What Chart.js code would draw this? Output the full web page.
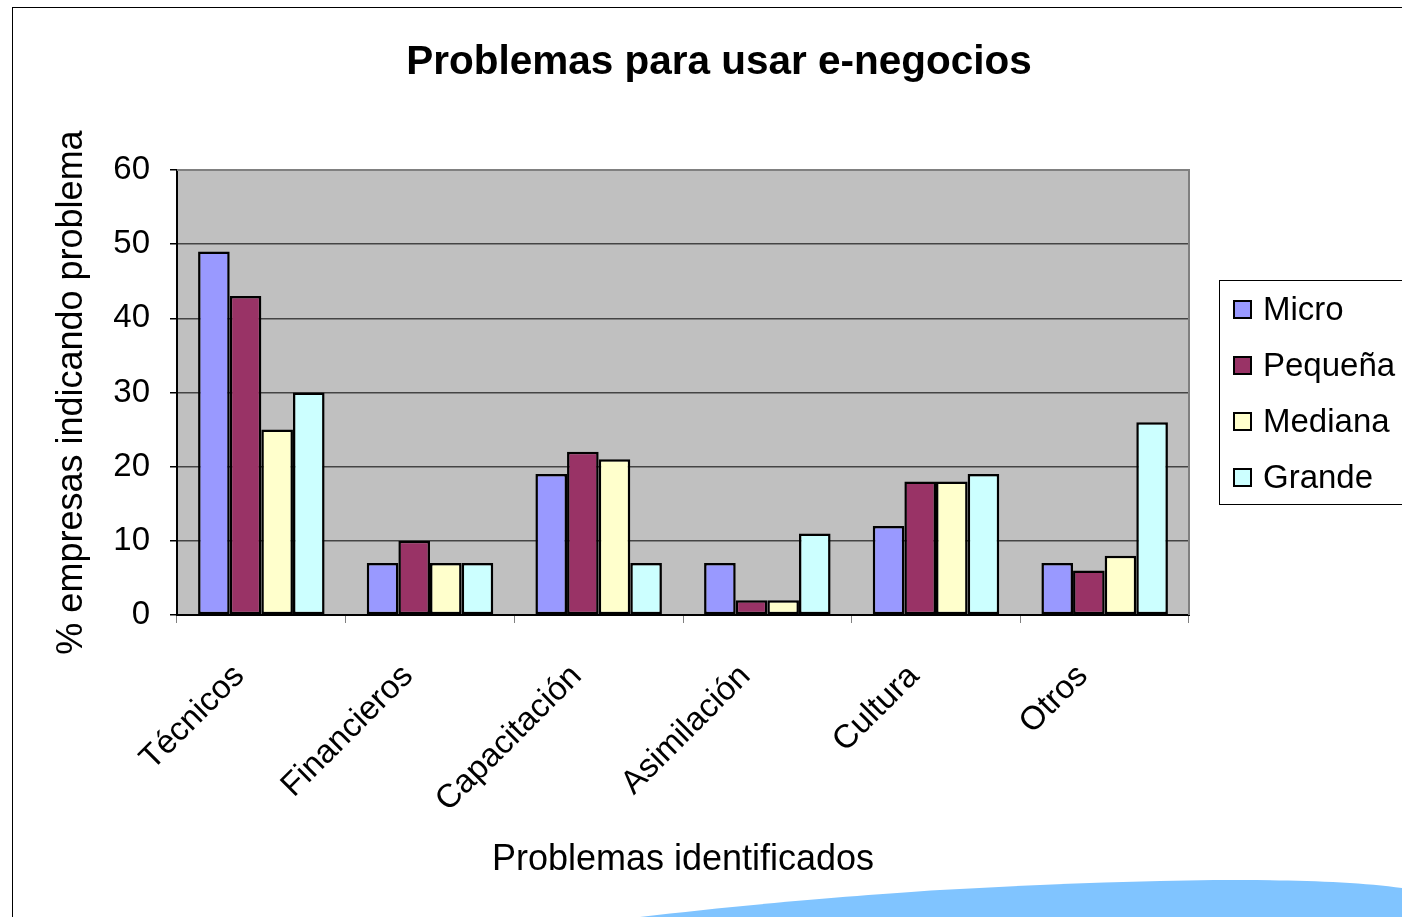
<!DOCTYPE html>
<html>
<head>
<meta charset="utf-8">
<script src="https://cdn.jsdelivr.net/npm/chart.js@4/dist/chart.umd.min.js"></script>
<style>
html,body{margin:0;padding:0;background:#fff;overflow:hidden;}
#wrap{position:relative;width:1402px;height:917px;font-family:"Liberation Sans",Arial,sans-serif;}
#frame{position:absolute;left:12px;top:7px;width:1400px;height:920px;border-left:1px solid #000;border-top:1px solid #000;}
#title{position:absolute;left:0;top:37px;width:1438px;text-align:center;font-weight:bold;font-size:40.5px;line-height:47px;color:#000;}
#chartBox{position:absolute;left:0;top:0;width:1402px;height:917px;}
#legend{position:absolute;left:1219px;top:280px;width:260px;height:225px;border:1px solid #000;box-sizing:border-box;}
#legend div{height:56px;line-height:56px;font-size:33px;color:#000;white-space:nowrap;position:relative;padding-left:43px;}
#legend span{position:absolute;left:13px;top:19px;width:15px;height:15px;border:2px solid #000;}
#wave{position:absolute;left:0;top:0;}
</style>
</head>
<body>
<div id="wrap">
<svg id="wave" width="1402" height="917"><path d="M640 917 C 740 905, 860 895, 940 890 C 1050 884, 1150 880, 1240 880 C 1300 880, 1360 882, 1402 888 L 1402 917 Z" fill="#80C4FF"/></svg>
<div id="frame"></div>
<div id="chartBox"><canvas id="chart" width="1402" height="917"></canvas></div>
<div id="title">Problemas para usar e-negocios</div>
<div id="legend"></div>
</div>
<script>
const categories=["Técnicos","Financieros","Capacitación","Asimilación","Cultura","Otros"];
const seriesNames=["Micro","Pequeña","Mediana","Grande"];
const micro=[49,7,19,7,12,7];
const pequena=[43,10,22,2,18,6];
const mediana=[25,7,21,2,18,8];
const grande=[30,7,7,11,19,26];
const yTicks=[0,10,20,30,40,50,60];

const colors=["#9999FF","#993366","#FFFFCC","#CCFFFF"];
const values=[micro,pequena,mediana,grande];

let datasets=[];
for(let i=0;i<4;i++){
datasets.push({
label:seriesNames[i],
data:values[i],
backgroundColor:colors[i],
borderColor:"#000",
borderWidth:2.5,
borderSkipped:false,
categoryPercentage:0.75,
barPercentage:1
});
}

const plotBg={
id:"plotBg",
beforeDraw(chart){
const {ctx,chartArea:a}=chart;
ctx.save();
ctx.fillStyle="#C0C0C0";
ctx.fillRect(a.left,a.top,a.right-a.left,a.bottom-a.top);
ctx.restore();
},
afterDraw(chart){
const {ctx,chartArea:a}=chart;
ctx.save();
ctx.strokeStyle="#808080";
ctx.lineWidth=2;
ctx.beginPath();
ctx.moveTo(a.left,a.top);
ctx.lineTo(a.right,a.top);
ctx.lineTo(a.right,a.bottom);
ctx.stroke();
ctx.restore();
}
};

Chart.defaults.font.family='"Liberation Sans", Arial, sans-serif';
Chart.defaults.color="#000";

const chart=new Chart(document.getElementById("chart"),{
type:"bar",
data:{labels:categories,datasets},
plugins:[plotBg],
options:{
responsive:false,
animation:false,
layout:{padding:{left:0,right:213,top:170,bottom:0}},
plugins:{legend:{display:false},title:{display:false},tooltip:{enabled:false}},
scales:{
x:{
grid:{display:true,drawOnChartArea:false,tickLength:8,color:"#808080",offset:true},
border:{color:"#000",width:2},
ticks:{font:{size:33},minRotation:45,maxRotation:45,padding:34,labelOffset:-22,autoSkip:false},
title:{display:true,text:"Problemas identificados",font:{size:36},padding:{top:0,bottom:35}},
afterFit(s){s.height=302;}
},
y:{
min:0,max:60,
afterBuildTicks(s){s.ticks=yTicks.map(v=>({value:v}));},
grid:{color:c=>c.tick&&c.tick.value===60?"#808080":"#444",lineWidth:1.5,tickLength:7,tickColor:"#000"},
border:{color:"#000",width:2},
ticks:{font:{size:33},padding:20},
title:{display:true,text:"% empresas indicando problema",font:{size:36},padding:{top:50,bottom:0}},
afterFit(s){s.width=177;}
}
}
}
});

const legend=document.getElementById("legend");
chart.data.datasets.forEach(ds=>{
let row=document.createElement("div");
let box=document.createElement("span");
box.style.background=ds.backgroundColor;
row.appendChild(box);
row.appendChild(document.createTextNode(ds.label));
legend.appendChild(row);
});
</script>
</body>
</html>
